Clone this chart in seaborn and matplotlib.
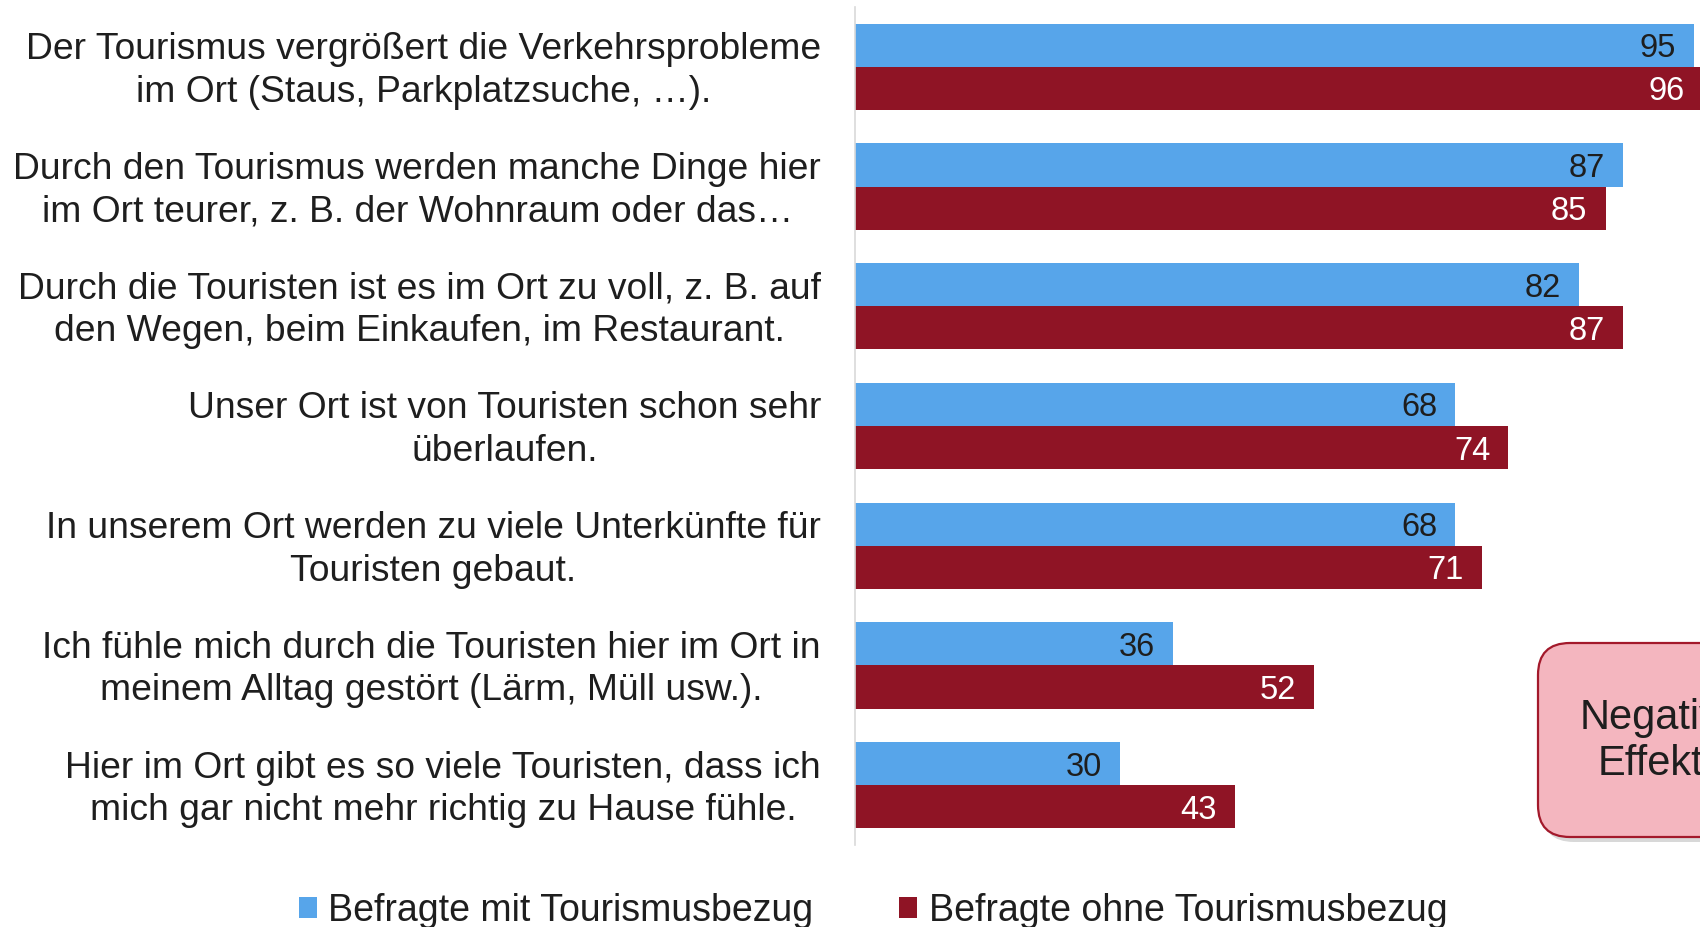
import numpy as np
import pandas as pd
import matplotlib
matplotlib.use("Agg")
import matplotlib.pyplot as plt
from matplotlib.patches import FancyBboxPatch
from matplotlib.transforms import IdentityTransform, ScaledTranslation
import seaborn as sns

categories = [
    "Der Tourismus vergrößert die Verkehrsprobleme\nim Ort (Staus, Parkplatzsuche, …).",
    "Durch den Tourismus werden manche Dinge hier\nim Ort teurer, z. B. der Wohnraum oder das…",
    "Durch die Touristen ist es im Ort zu voll, z. B. auf\nden Wegen, beim Einkaufen, im Restaurant.",
    "Unser Ort ist von Touristen schon sehr\nüberlaufen.",
    "In unserem Ort werden zu viele Unterkünfte für\nTouristen gebaut.",
    "Ich fühle mich durch die Touristen hier im Ort in\nmeinem Alltag gestört (Lärm, Müll usw.).",
    "Hier im Ort gibt es so viele Touristen, dass ich\nmich gar nicht mehr richtig zu Hause fühle.",
]
series_names = ["Befragte mit Tourismusbezug", "Befragte ohne Tourismusbezug"]
mit_bezug = [95, 87, 82, 68, 68, 36, 30]
ohne_bezug = [96, 85, 87, 74, 71, 52, 43]
box_text = "Negative\nEffekte"

BLUE = "#57A5EA"
RED = "#8F1425"
GRID = "#D9D9D9"
TXT = "#1E1E1E"

df = pd.DataFrame({
    "Aussage": categories * 2,
    "Wert": mit_bezug + ohne_bezug,
    "Gruppe": [series_names[0]] * len(categories) + [series_names[1]] * len(categories),
})

sns.set_style("white")
plt.rcParams["font.family"] = ["Liberation Sans", "DejaVu Sans"]

W, H = 1700, 927
fig = plt.figure(figsize=(W / 100, H / 100), dpi=100)
px_per_unit = 8.83
ax = fig.add_axes([855 / W, 82 / H, 100 * px_per_unit / W, 838 / H])

sns.barplot(data=df, y="Aussage", x="Wert", hue="Gruppe", orient="h",
            palette=[BLUE, RED], saturation=1, width=0.72, gap=0,
            order=categories, hue_order=series_names, ax=ax, legend=True,
            linewidth=0)

ax.set_xlim(0, 100)
ax.set_ylim(len(categories) - 0.5, -0.5)
ax.set_xlabel("")
ax.set_ylabel("")
ax.xaxis.set_visible(False)
for s in ["top", "right", "bottom"]:
    ax.spines[s].set_visible(False)
ax.spines["left"].set_color(GRID)
ax.spines["left"].set_linewidth(1.2)

ax.set_yticks(np.arange(len(categories)))
ax.set_yticklabels(categories, ha="right", multialignment="center",
                   linespacing=1.27, fontsize=26.8, color=TXT)
ax.tick_params(axis="y", which="major", length=0, pad=24.5)
ax.set_yticks(np.arange(len(categories) + 1) - 0.5, minor=True)
ax.tick_params(axis="y", which="minor", length=8.6, width=1.1, color=GRID, direction="out")
shift = ScaledTranslation(0, 3.5 / 100, fig.dpi_scale_trans)
for lbl in ax.get_yticklabels():
    lbl.set_transform(lbl.get_transform() + shift)

label_colors = [TXT, "white"]
for cont, col in zip(ax.containers, label_colors):
    texts = ax.bar_label(cont, padding=-13, fontsize=23.5, color=col,
                         annotation_clip=False)
    for t in texts:
        t.set_ha("right")
        t.set_va("center_baseline")

sns.move_legend(ax, "center", bbox_to_anchor=(873 / W, 16 / H),
                bbox_transform=fig.transFigure, ncol=2, frameon=False,
                title=None, fontsize=27, handlelength=0.48, handleheight=0.5,
                handletextpad=0.3, columnspacing=2.3, borderaxespad=0,
                borderpad=0)
for t in ax.get_legend().get_texts():
    t.set_color(TXT)

# Rounded annotation box (partially cut off at the right edge)
bx, by, bw, bh = 1538, H - 837, 262, 194
shadow = FancyBboxPatch((bx + 4, by - 5), bw, bh,
                        boxstyle="round,pad=0,rounding_size=32",
                        transform=IdentityTransform(), facecolor="#7f7f7f",
                        edgecolor="none", alpha=0.3, zorder=5)
box = FancyBboxPatch((bx, by), bw, bh,
                     boxstyle="round,pad=0,rounding_size=32",
                     transform=IdentityTransform(), facecolor="#F4B6BF",
                     edgecolor="#A3192B", linewidth=1.6, zorder=6)
fig.add_artist(shadow)
fig.add_artist(box)
fig.text(1662 / W, (H - 741) / H, box_text, ha="center", va="center",
         multialignment="center", fontsize=30, linespacing=1.2,
         color=TXT, zorder=7)

fig.savefig("out.png", dpi=100)
